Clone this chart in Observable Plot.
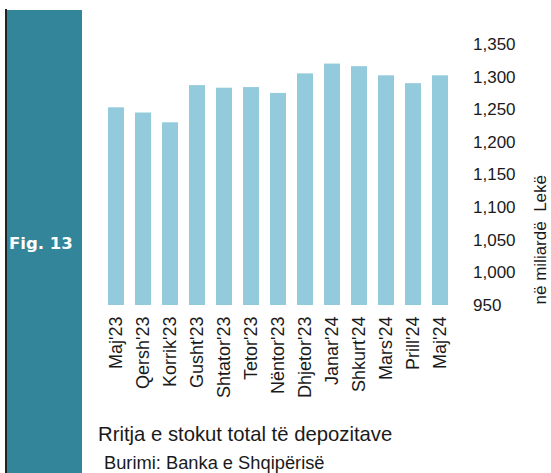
<!DOCTYPE html>
<html><head><meta charset="utf-8">
<script src="https://cdn.jsdelivr.net/npm/d3@7"></script>
<script src="https://cdn.jsdelivr.net/npm/@observablehq/plot@0.6"></script>
<style>
body{margin:0;background:#fff;}
#wrap{position:relative;width:551px;height:473px;overflow:hidden;font-family:"Liberation Sans",Arial,sans-serif;color:#1a1a1a;}
#rule{position:absolute;left:5px;top:9px;width:2px;height:464px;background:#222;}
#panel{position:absolute;left:7px;top:10px;width:75px;height:463px;background:#33869a;}
#fig{position:absolute;left:9px;top:236px;font-family:"DejaVu Sans",sans-serif;font-weight:bold;font-size:16.5px;line-height:1;color:#fff;white-space:nowrap;}
#chart{position:absolute;left:0;top:0;}
#title{position:absolute;left:98px;top:424px;font-size:20.3px;line-height:1;white-space:nowrap;}
#caption{position:absolute;left:104px;top:453.5px;font-size:18.3px;line-height:1;white-space:nowrap;}
</style></head><body>
<div id="wrap">
 <div id="rule"></div><div id="panel"></div><div id="fig">Fig. 13</div>
 <div id="chart"></div>
 <div id="title">Rritja e stokut total të depozitave</div>
 <div id="caption">Burimi: Banka e Shqipërisë</div>
</div>
<script>
const months = ["Maj'23","Qersh'23","Korrik'23","Gusht'23","Shtator'23","Tetor'23","Nëntor'23","Dhjetor'23","Janar'24","Shkurt'24","Mars'24","Prill'24","Maj'24"];
const values = [1253,1245,1230,1287,1283,1284,1275,1305,1320,1316,1302,1290,1302];
const yTicks = [950,1000,1050,1100,1150,1200,1250,1300,1350];
const yLabel = "në miliardë\u00a0 Lekë";

const data = months.map((m, i) => ({month: m, value: values[i]}));

const chart = Plot.plot({
  width: 551, height: 410,
  marginTop: 44, marginBottom: 105, marginLeft: 99.25, marginRight: 95.5,
  style: {fontFamily: "'Liberation Sans', Arial, sans-serif", fontSize: "17px", color: "#1a1a1a", background: "transparent", overflow: "visible"},
  x: {type: "band", domain: months, paddingInner: 0.42, paddingOuter: 0.21, axis: null},
  y: {domain: [950, 1350], axis: null},
  marks: [
    Plot.barY(data, {x: "month", y1: 950, y2: "value", fill: "#94cbdc"}),
    Plot.axisX({tickRotate: -90, tickSize: 0, tickPadding: 11, fontSize: 18, label: null}),
    Plot.axisY(yTicks, {anchor: "right", tickSize: 0, tickPadding: 17, textAnchor: "start", tickFormat: d3.format(","), label: null}),
    Plot.text([yLabel], {frameAnchor: "right", rotate: -90, dx: 84.5, text: d => d, fontSize: 17})
  ]
});
document.getElementById("chart").appendChild(chart);
</script>
</body></html>
